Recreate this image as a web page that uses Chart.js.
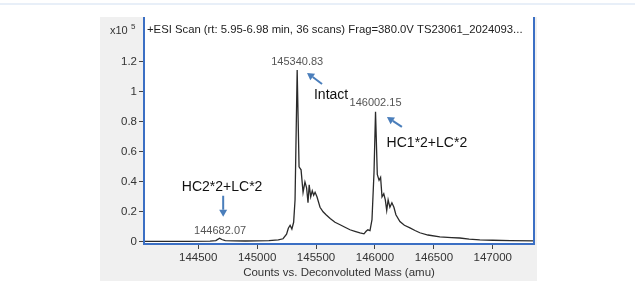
<!DOCTYPE html>
<html>
<head>
<meta charset="utf-8">
<script src="https://cdn.jsdelivr.net/npm/chart.js@4/dist/chart.umd.min.js"></script>
<style>
  html, body { margin: 0; padding: 0; background: #fff; }
  #wrap { width: 635px; height: 286px; }
</style>
</head>
<body>
<div id="wrap"><canvas id="c" width="635" height="286"></canvas></div>
<script>
// deconvoluted mass spectrum, counts in units of 1e5
const MASS = [
  144040, 144200, 144400, 144600, 144650, 144682, 144700, 144730, 144800, 144900,
  145000, 145100, 145180, 145220, 145250, 145265, 145280, 145295, 145310, 145322,
  145340, 145356, 145373, 145390, 145406, 145420, 145432, 145442, 145455, 145468,
  145480, 145492, 145508, 145534, 145560, 145585, 145620, 145661, 145700, 145750,
  145788, 145830, 145873, 145907, 145925, 145940, 145958, 145975, 145992, 146005,
  146020, 146035, 146048, 146060, 146075, 146088, 146100, 146112, 146127, 146144,
  146161, 146178, 146212, 146250, 146297, 146340, 146381, 146450, 146551, 146650,
  146720, 146800, 146890, 147000, 147150, 147350
];
const COUNTS = [
  0.003, 0.003, 0.003, 0.004, 0.008, 0.024, 0.015, 0.008, 0.006, 0.005,
  0.006, 0.008, 0.012, 0.020, 0.050, 0.090, 0.110, 0.085, 0.130, 0.280,
  1.147, 0.500, 0.480, 0.330, 0.400, 0.360, 0.260, 0.380, 0.300, 0.340,
  0.310, 0.330, 0.300, 0.230, 0.200, 0.180, 0.155, 0.130, 0.115, 0.095,
  0.080, 0.070, 0.060, 0.053, 0.070, 0.080, 0.075, 0.147, 0.460, 0.867,
  0.450, 0.410, 0.430, 0.300, 0.320, 0.280, 0.210, 0.280, 0.230, 0.260,
  0.230, 0.180, 0.135, 0.110, 0.093, 0.075, 0.060, 0.045, 0.033, 0.028,
  0.025, 0.018, 0.013, 0.010, 0.008, 0.006
];
const X_TICKS = [144500, 145000, 145500, 146000, 146500, 147000];
const Y_TICKS = [0, 0.2, 0.4, 0.6, 0.8, 1, 1.2];

const TITLE = '+ESI Scan (rt: 5.95-6.98 min, 36 scans) Frag=380.0V TS23061_2024093...';
const X_TITLE = 'Counts vs. Deconvoluted Mass (amu)';

// peak labels and callouts, in data units
const PEAK_LABELS = [
  { text: '145340.83', x: 145340, y: 1.20 },
  { text: '146002.15', x: 146005, y: 0.927 },
  { text: '144682.07', x: 144686, y: 0.073 },
];
const CALLOUTS = [
  { text: 'Intact',     x: 145628, y: 0.98 },
  { text: 'HC1*2+LC*2', x: 146441, y: 0.66 },
  { text: 'HC2*2+LC*2', x: 144703, y: 0.367 },
];
const ARROWS = [
  { x0: 145551, y0: 1.053, x1: 145424, y1: 1.127 },
  { x0: 146229, y0: 0.767, x1: 146102, y1: 0.833 },
  { x0: 144712, y0: 0.307, x1: 144712, y1: 0.167 },
];

const FONT = '"Liberation Sans", Arial, sans-serif';

const framePlugin = {
  id: 'frame',
  beforeDraw(chart) {
    const { ctx, chartArea: a } = chart;
    ctx.save();
    ctx.fillStyle = '#fff';
    ctx.fillRect(0, 0, chart.width, chart.height);
    ctx.fillStyle = '#e8eff8';
    ctx.fillRect(0, 3, chart.width, 2);
    ctx.fillStyle = '#f0f0f0';
    ctx.fillRect(100, 17, 437, 264);
    ctx.fillStyle = '#fff';
    ctx.fillRect(a.left, a.top, a.right - a.left, a.bottom - a.top);
    ctx.restore();
  },
  afterDraw(chart) {
    const { ctx, chartArea: a, scales } = chart;
    const sx = scales.x, sy = scales.y;
    ctx.save();

    // blue plot frame
    ctx.strokeStyle = '#3b6fc4';
    ctx.lineWidth = 2;
    ctx.beginPath();
    ctx.moveTo(a.left, a.top);
    ctx.lineTo(a.left, a.bottom);
    ctx.lineTo(a.right, a.bottom);
    ctx.lineTo(a.right, a.top);
    ctx.stroke();

    // scan title and exponent
    ctx.fillStyle = '#222';
    ctx.font = '11.3px ' + FONT;
    ctx.textBaseline = 'middle';
    ctx.textAlign = 'left';
    ctx.fillText(TITLE, a.left + 3, 30);
    ctx.fillStyle = '#333';
    ctx.font = '11px ' + FONT;
    ctx.fillText('x10', 110, 31);
    ctx.font = '8px ' + FONT;
    ctx.fillText('5', 131, 27);

    // peak mass labels
    ctx.font = '11px ' + FONT;
    ctx.fillStyle = '#555';
    ctx.textAlign = 'center';
    PEAK_LABELS.forEach(p => {
      ctx.fillText(p.text, sx.getPixelForValue(p.x), sy.getPixelForValue(p.y));
    });

    // callout text
    ctx.font = '14px ' + FONT;
    ctx.fillStyle = '#111';
    CALLOUTS.forEach(p => {
      ctx.fillText(p.text, sx.getPixelForValue(p.x), sy.getPixelForValue(p.y));
    });

    // arrows
    ctx.strokeStyle = '#4a7ebb';
    ctx.fillStyle = '#4a7ebb';
    ctx.lineWidth = 2;
    ARROWS.forEach(r => {
      const x0 = sx.getPixelForValue(r.x0), y0 = sy.getPixelForValue(r.y0);
      const x1 = sx.getPixelForValue(r.x1), y1 = sy.getPixelForValue(r.y1);
      const ang = Math.atan2(y1 - y0, x1 - x0);
      const hl = 7, hw = 4;
      const bx = x1 - hl * Math.cos(ang), by = y1 - hl * Math.sin(ang);
      ctx.beginPath();
      ctx.moveTo(x0, y0);
      ctx.lineTo(bx, by);
      ctx.stroke();
      ctx.beginPath();
      ctx.moveTo(x1, y1);
      ctx.lineTo(bx + hw * Math.sin(ang), by - hw * Math.cos(ang));
      ctx.lineTo(bx - hw * Math.sin(ang), by + hw * Math.cos(ang));
      ctx.closePath();
      ctx.fill();
    });

    ctx.restore();
  },
};

new Chart(document.getElementById('c'), {
  type: 'line',
  data: {
    datasets: [{
      data: MASS.map((m, i) => ({ x: m, y: COUNTS[i] })),
      borderColor: '#2a2a2a',
      borderWidth: 1.3,
      pointRadius: 0,
      tension: 0,
      fill: false,
    }],
  },
  options: {
    responsive: false,
    animation: false,
    layout: { padding: { left: 100, right: 101, top: 17, bottom: 0 } },
    plugins: { legend: { display: false }, tooltip: { enabled: false } },
    scales: {
      x: {
        type: 'linear',
        min: 144040,
        max: 147350,
        afterBuildTicks: s => { s.ticks = X_TICKS.map(v => ({ value: v })); },
        afterFit: s => { s.height = 42; },
        grid: { drawOnChartArea: false, drawTicks: true, tickLength: 5, tickColor: '#444' },
        border: { display: false },
        ticks: {
          color: '#333',
          font: { family: FONT, size: 11.5 },
          padding: 2,
          maxRotation: 0,
          autoSkip: false,
          callback: v => String(v),
        },
        title: {
          display: true,
          text: X_TITLE,
          color: '#333',
          font: { family: FONT, size: 11.5 },
          padding: { top: 0, bottom: 6 },
        },
      },
      y: {
        min: -0.015,
        max: 1.5,
        afterBuildTicks: s => { s.ticks = Y_TICKS.map(v => ({ value: v })); },
        afterFit: s => { s.width = 44; },
        grid: { drawOnChartArea: false, drawTicks: true, tickLength: 5, tickColor: '#444' },
        border: { display: false },
        ticks: {
          color: '#333',
          font: { family: FONT, size: 11.5 },
          padding: 2,
          callback: v => String(v),
        },
      },
    },
  },
  plugins: [framePlugin],
});
</script>
</body>
</html>
